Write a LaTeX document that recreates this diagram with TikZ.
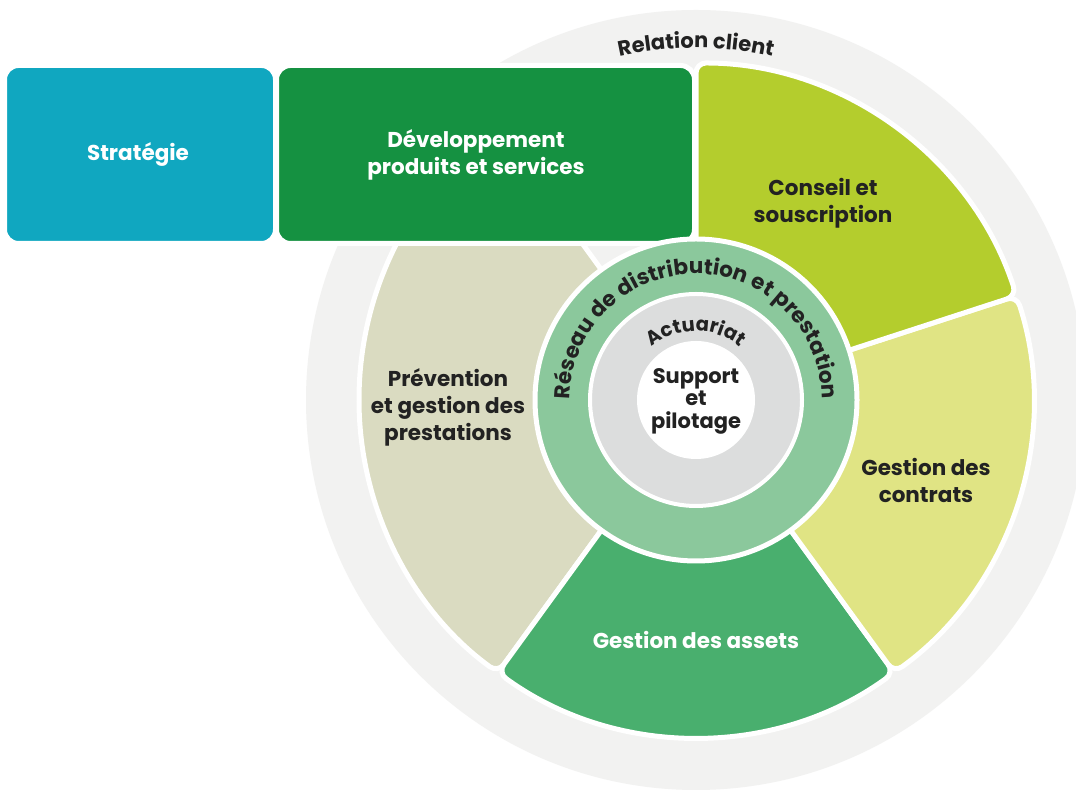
\documentclass[tikz,border=0pt]{standalone}
\usepackage{fontspec}
\setmainfont{Poppins}
\usetikzlibrary{decorations.text}
\definecolor{outerg}{HTML}{F2F2F1}
\definecolor{teal}{HTML}{10A7C0}
\definecolor{devg}{HTML}{159141}
\definecolor{consg}{HTML}{B4CD2D}
\definecolor{contrg}{HTML}{E0E484}
\definecolor{assetg}{HTML}{49AF6E}
\definecolor{prevg}{HTML}{DADBC1}
\definecolor{ringg}{HTML}{8BC89C}
\definecolor{midg}{HTML}{DCDDDD}
\definecolor{txtdark}{HTML}{222222}
\begin{document}
\begin{tikzpicture}[x=1pt,y=1pt,
  font=\bfseries\fontsize{21.5}{27}\selectfont,
  seg/.style={draw=white, line width=5pt, rounded corners=10pt},
  boxst/.style={draw=white, line width=5pt, rounded corners=14pt},
  lbl/.style={align=center, text=txtdark, inner sep=0pt},
  wlbl/.style={align=center, text=white, inner sep=0pt},
  curv/.style={decorate, decoration={text along path, text align=center, text={#1}}}]
\useasboundingbox (0,0) rectangle (1076,791);
\fill[white] (0,0) rectangle (1076,791);
\coordinate (C) at (696,391);
\fill[outerg] (C) circle[radius=390];
\begin{scope}[shift={(696,391)}]
  % segments
  \path[seg, fill=prevg] (126:150) -- (126:337) arc[start angle=126, end angle=234, radius=337] -- (234:150) arc[start angle=234, end angle=126, radius=150] -- cycle;
  \path[seg, fill=assetg] (234:150) -- (234:337) arc[start angle=234, end angle=306, radius=337] -- (306:150) arc[start angle=306, end angle=234, radius=150] -- cycle;
  \path[seg, fill=contrg] (306:150) -- (306:337) arc[start angle=306, end angle=378, radius=337] -- (378:150) arc[start angle=378, end angle=306, radius=150] -- cycle;
  \path[seg, fill=consg] (18:150) -- (18:337) arc[start angle=18, end angle=90, radius=337] -- (90:150) arc[start angle=90, end angle=18, radius=150] -- cycle;
\end{scope}
% boxes
\path[boxst, fill=teal] (4.5,547.5) rectangle (275.5,725.5);
\path[boxst, fill=devg] (276.5,547.5) rectangle (694.5,725.5);
% rings
\path[draw=white, line width=5pt, fill=ringg] (C) circle[radius=161];
\path[draw=white, line width=4pt, fill=midg] (C) circle[radius=106];
\fill[white] (C) circle[radius=59];
% labels
\node[wlbl] (strat) at (138,636) {Stratégie};
\node[wlbl] (dev) at (476,636.5) {Développement\\produits et services};
\node[lbl] (cons) at (823,587.5) {Conseil et\\souscription};
\node[lbl] (contr) at (926,311) {Gestion des\\contrats};
\node[wlbl] (asset) at (696,151) {Gestion des assets};
\node[lbl] (prev) at (448,384) {Prévention\\et gestion des\\prestations};
\node[lbl, font=\bfseries\fontsize{21}{22.5}\selectfont] (supp) at (696,390) {Support\\et\\pilotage};
\begin{scope}[shift={(696,391)}]
  \path[curv={|\bfseries\fontsize{21}{21}\selectfont\color{txtdark}|Relation client}] (130:352) arc[start angle=130, end angle=50, radius=352];
  \path[curv={|\bfseries\fontsize{21.5}{21.5}\selectfont\color{txtdark}|Réseau de distribution et prestation}] (200:126) arc[start angle=200, end angle=-20, radius=126];
  \path[curv={|\bfseries\fontsize{19.5}{19.5}\selectfont\color{txtdark}|Actuariat}] (150:69) arc[start angle=150, end angle=30, radius=69];
\end{scope}
\end{tikzpicture}
\end{document}
